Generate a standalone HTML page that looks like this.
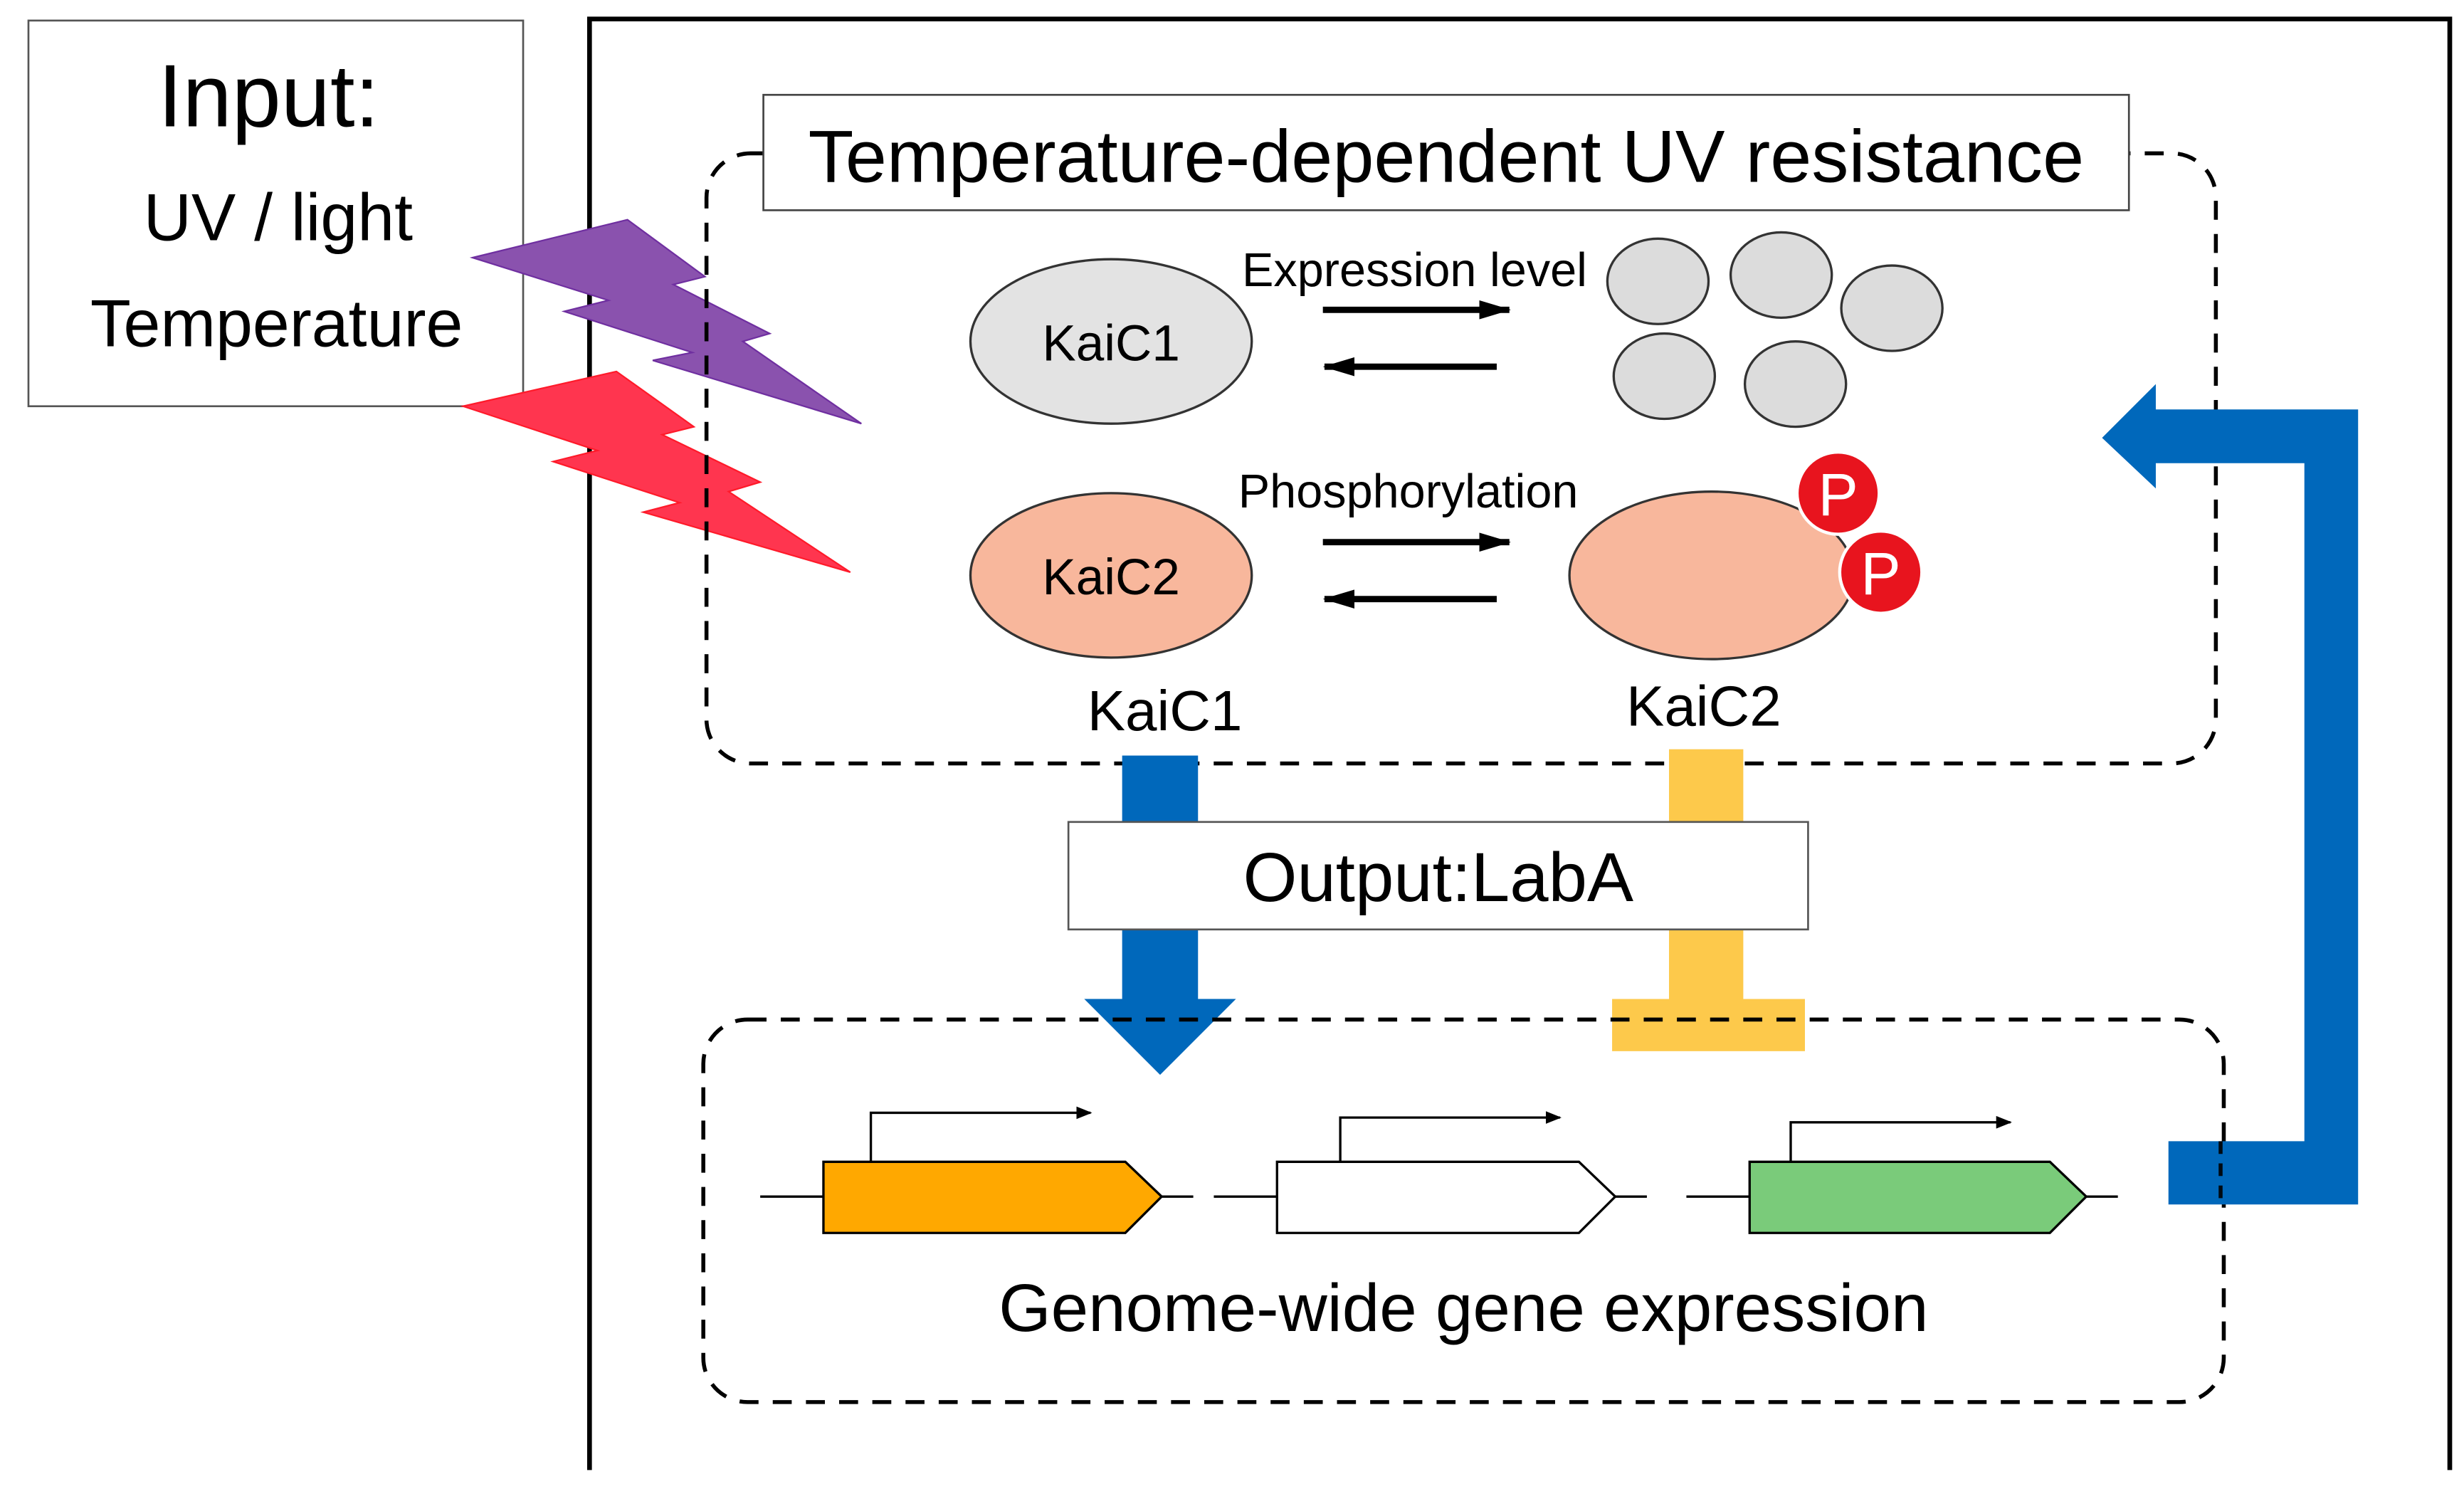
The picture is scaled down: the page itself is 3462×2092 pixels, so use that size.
<!DOCTYPE html>
<html><head><meta charset="utf-8"><style>
html,body{margin:0;padding:0;background:#fff;}
svg{display:block;}
text{font-family:"Liberation Sans",Arial,sans-serif;fill:#000;}
</style></head><body>
<svg width="3462" height="2092" viewBox="0 0 1559 942" preserveAspectRatio="none" xmlns="http://www.w3.org/2000/svg">
<defs>
<marker id="ah" markerWidth="10" markerHeight="8" refX="9" refY="4" orient="auto" markerUnits="userSpaceOnUse"><path d="M0,0 L10,4 L0,8 Z" fill="#000"/></marker>
<marker id="ah2" markerWidth="20" markerHeight="12" refX="19" refY="6" orient="auto" markerUnits="userSpaceOnUse"><path d="M0,0 L20,6 L0,12 Z" fill="#000"/></marker>
</defs>
<rect width="1559" height="942" fill="#fff"/>
<path d="M373,930 L373,12 L1550,12 L1550,930" fill="none" stroke="#000" stroke-width="3"/>
<rect x="18" y="13" width="313" height="244" fill="#fff" stroke="#555" stroke-width="1.2"/>
<text x="170" y="80" font-size="56" text-anchor="middle">Input:</text>
<text x="176" y="152" font-size="42" text-anchor="middle">UV / light</text>
<text x="175" y="219" font-size="42" text-anchor="middle">Temperature</text>
<polygon points="299,163 397,139 446,175 426,180 487,211 470,216 545,268 413,228 438,223 357,197 385,190" fill="#8a52ae" stroke="#6f2fa0" stroke-width="1"/>
<polygon points="293,257 390,235 439,270 419,275 481,305 461,311 538,362 407,324 430,318 350,292 378,285" fill="#ff354f" stroke="#ff1a2a" stroke-width="1"/>
<rect x="447" y="97" width="955" height="386" rx="28" fill="none" stroke="#000" stroke-width="2.5" stroke-dasharray="12,9"/>
<rect x="483" y="60" width="864" height="73" fill="#fff" stroke="#444" stroke-width="1.2"/>
<text x="915" y="115" font-size="47" text-anchor="middle">Temperature-dependent UV resistance</text>
<ellipse cx="703" cy="216" rx="89" ry="52" fill="#e3e3e3" stroke="#333" stroke-width="1.5"/>
<text x="703" y="228" font-size="32" text-anchor="middle">KaiC1</text>
<text x="895" y="181" font-size="30" text-anchor="middle">Expression level</text>
<line x1="837" y1="196" x2="955" y2="196" stroke="#000" stroke-width="4" marker-end="url(#ah2)"/>
<line x1="947" y1="232" x2="838" y2="232" stroke="#000" stroke-width="4" marker-end="url(#ah2)"/>
<g fill="#dcdcdc" stroke="#333" stroke-width="1.5">
<ellipse cx="1049" cy="178" rx="32" ry="27"/>
<ellipse cx="1127" cy="174" rx="32" ry="27"/>
<ellipse cx="1197" cy="195" rx="32" ry="27"/>
<ellipse cx="1053" cy="238" rx="32" ry="27"/>
<ellipse cx="1136" cy="243" rx="32" ry="27"/>
</g>
<ellipse cx="703" cy="364" rx="89" ry="52" fill="#f8b79c" stroke="#333" stroke-width="1.5"/>
<text x="703" y="376" font-size="32" text-anchor="middle">KaiC2</text>
<text x="891" y="321" font-size="30" text-anchor="middle">Phosphorylation</text>
<line x1="837" y1="343" x2="955" y2="343" stroke="#000" stroke-width="4" marker-end="url(#ah2)"/>
<line x1="947" y1="379" x2="838" y2="379" stroke="#000" stroke-width="4" marker-end="url(#ah2)"/>
<ellipse cx="1083" cy="364" rx="90" ry="53" fill="#f8b79c" stroke="#333" stroke-width="1.5"/>
<circle cx="1163" cy="312" r="26" fill="#e8141e" stroke="#fff" stroke-width="2"/>
<text x="1163" y="326" font-size="38" text-anchor="middle" style="fill:#fff">P</text>
<circle cx="1190" cy="362" r="26" fill="#e8141e" stroke="#fff" stroke-width="2"/>
<text x="1190" y="376" font-size="38" text-anchor="middle" style="fill:#fff">P</text>
<text x="737" y="462" font-size="36" text-anchor="middle">KaiC1</text>
<text x="1078" y="459" font-size="36" text-anchor="middle">KaiC2</text>
<rect x="710" y="478" width="48" height="155" fill="#0068bb"/>
<polygon points="686,632 782,632 734,680" fill="#0068bb"/>
<rect x="1056" y="474" width="47" height="160" fill="#fdc94b"/>
<rect x="1020" y="632" width="122" height="33" fill="#fdc94b"/>
<rect x="676" y="520" width="468" height="68" fill="#fff" stroke="#555" stroke-width="1.2"/>
<text x="910" y="570" font-size="44" text-anchor="middle">Output:LabA</text>
<rect x="445" y="645" width="962" height="242" rx="28" fill="none" stroke="#000" stroke-width="2.5" stroke-dasharray="12,9"/>
<g stroke="#000" stroke-width="1.5">
<line x1="481" y1="757" x2="521" y2="757"/><line x1="735" y1="757" x2="755" y2="757"/>
<line x1="768" y1="757" x2="808" y2="757"/><line x1="1022" y1="757" x2="1042" y2="757"/>
<line x1="1067" y1="757" x2="1107" y2="757"/><line x1="1320" y1="757" x2="1340" y2="757"/>
</g>
<polygon points="521,735 712,735 735,757 712,780 521,780" fill="#ffa800" stroke="#000" stroke-width="1.5"/>
<polygon points="808,735 999,735 1022,757 999,780 808,780" fill="#fff" stroke="#000" stroke-width="1.5"/>
<polygon points="1107,735 1297,735 1320,757 1297,780 1107,780" fill="#7acb7a" stroke="#000" stroke-width="1.5"/>
<path d="M551,735 L551,704 L690,704" fill="none" stroke="#000" stroke-width="1.5" marker-end="url(#ah)"/>
<path d="M848,735 L848,707 L987,707" fill="none" stroke="#000" stroke-width="1.5" marker-end="url(#ah)"/>
<path d="M1133,735 L1133,710 L1272,710" fill="none" stroke="#000" stroke-width="1.5" marker-end="url(#ah)"/>
<text x="926" y="842" font-size="42.5" text-anchor="middle">Genome-wide gene expression</text>
<polygon points="1372,722 1458,722 1458,293 1364,293 1364,309 1330,277 1364,243 1364,259 1492,259 1492,762 1372,762" fill="#0068bb"/>
<line x1="1405" y1="722" x2="1405" y2="762" stroke="#000" stroke-width="2.5" stroke-dasharray="8,6" opacity="0.9"/>
</svg>
</body></html>
